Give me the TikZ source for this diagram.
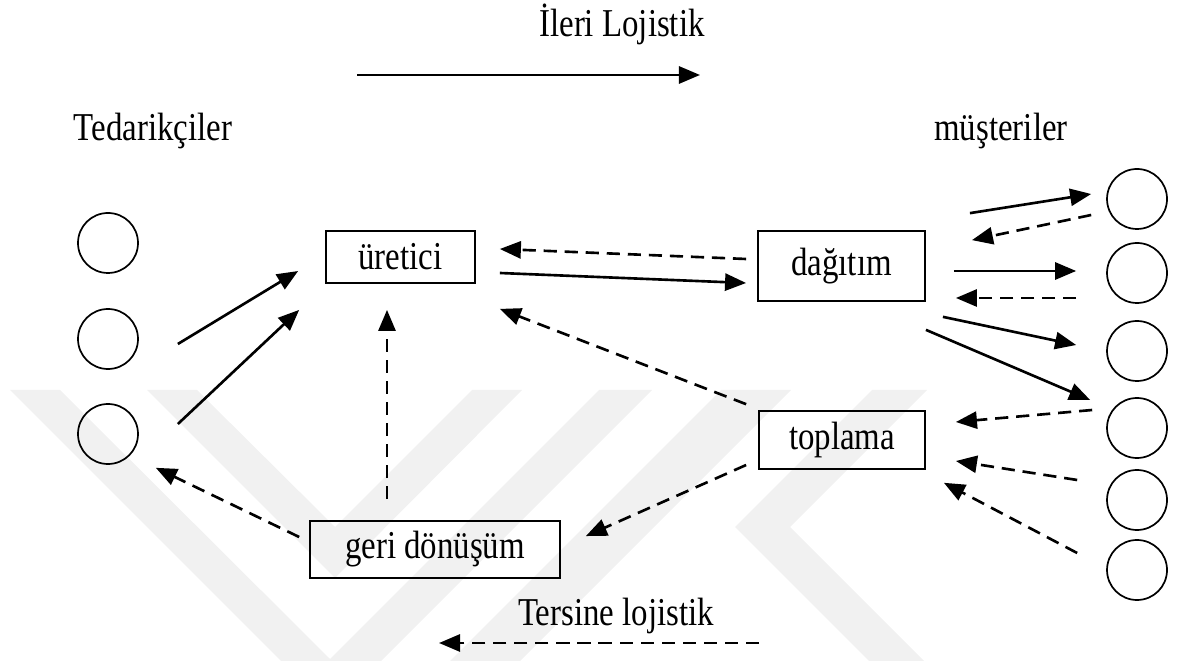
\documentclass[tikz,border=0pt]{standalone}
\usepackage{fontspec}
\usepackage{graphicx}
\setmainfont{Liberation Serif}
\usetikzlibrary{arrows.meta, calc}
\definecolor{wmgray}{RGB}{241,241,241}
\newcommand{\tallbox}[1]{\scalebox{1}[1.2]{#1}}

\tikzset{
  box/.style={draw, line width=0.65pt, inner sep=0pt, font=\fontsize{12.5}{14}\selectfont},
  circ/.style={draw, circle, line width=0.65pt, minimum size=22.8pt, inner sep=0pt},
  fwd/.style={line width=1pt, -{Triangle[length=8pt,width=6.5pt]}},
  bwd/.style={fwd, dash pattern=on 5pt off 3pt},
  lbl/.style={inner sep=0pt, anchor=base, font=\fontsize{12.5}{14}\selectfont}
}

\begin{document}
\begin{tikzpicture}[x=0.38pt, y=-0.38pt]
  \useasboundingbox (0,0) rectangle (1177,661);
  \fill[wmgray] (10,390) -- (331,711) -- (652,390) -- (599,390) -- (330,659) -- (60,390) -- cycle;
  \fill[wmgray] (147,390) -- (335,578) -- (522,390) -- (472,390) -- (335,527) -- (197,390) -- cycle;
  \fill[wmgray] (721,390) -- (791,390) -- (520,661) -- (450,661) -- cycle;
  \fill[wmgray] (872,390) -- (927,390) -- (790,527) -- (924,661) -- (869,661) -- (735,527) -- cycle;

  \node[lbl] (ileri) at (622,37) {\tallbox{İleri Lojistik}};
  \node[lbl] (tedarik) at (153,141) {\tallbox{Tedarikçiler}};
  \node[lbl] (musteri) at (1001,141) {\tallbox{müşteriler}};
  \node[lbl] (tersine) at (616,625) {\tallbox{Tersine lojistik}};

  \coordinate (ileriA) at (357,75);
  \coordinate (ileriB) at (700,75);
  \coordinate (tersA) at (759,643);
  \coordinate (tersB) at (439,643);
  \draw[fwd] (ileriA) -- (ileriB);
  \draw[bwd] (tersA) -- (tersB);

  \foreach \i/\y in {1/243, 2/339, 3/434}
    \node[circ] (s\i) at (108,\y) {};
  \foreach \i/\y in {1/199, 2/273, 3/351, 4/428, 5/500, 6/570}
    \node[circ] (c\i) at (1137,\y) {};

  \node[box, minimum width=56.6pt, minimum height=19.8pt] (uretici) at (400.5,257) {\tallbox{üretici}};
  \node[box, minimum width=63.5pt, minimum height=26.6pt] (dagitim) at (841.5,266) {\tallbox{dağıtım}};
  \node[box, minimum width=63.1pt, minimum height=22pt] (toplama) at (842,440) {\tallbox{toplama}};
  \node[box, minimum width=95pt, minimum height=21.7pt] (geri) at (435,549.5) {\tallbox{geri dönüşüm}};

  \draw[fwd] ([shift={(39,5)}]s2.east) -- ([shift={(-27,14)}]uretici.west);
  \draw[fwd] ([shift={(39,-10)}]s3.east) -- ([shift={(-26,26)}]uretici.south west);
  \draw[fwd] ([shift={(24,16)}]uretici.east) -- ([shift={(-11,17)}]dagitim.west);
  \draw[bwd] ([shift={(-11,-7)}]dagitim.west) -- ([shift={(24,-8)}]uretici.east);
  \draw[bwd] ([shift={(-12,-6)}]toplama.north west) -- ([shift={(24,25)}]uretici.south east);
  \draw[bwd] ([shift={(-48,-21)}]geri.north) -- ([shift={(-13.5,26)}]uretici.south);
  \draw[bwd] ([shift={(-10,-12.5)}]geri.west) -- ([shift={(26,12)}]s3.south east);
  \draw[bwd] ([shift={(-12,25)}]toplama.west) -- ([shift={(25,16)}]geri.north east);

  \draw[fwd] ([shift={(44,-17)}]dagitim.north east) -- ([shift={(-15,-5)}]c1.west);
  \draw[bwd] ([shift={(-15,16)}]c1.west) -- ([shift={(46,10)}]dagitim.north east);
  \draw[fwd] ([shift={(28,5)}]dagitim.east) -- ([shift={(-30,-2)}]c2.west);
  \draw[bwd] ([shift={(-30,25)}]c2.west) -- ([shift={(30,32)}]dagitim.east);
  \draw[fwd] ([shift={(17,15)}]dagitim.south east) -- ([shift={(-30,-6)}]c3.west);
  \draw[fwd] ([shift={(0,28)}]dagitim.south east) -- ([shift={(-16,-28)}]c4.west);
  \draw[bwd] ([shift={(-14,-18)}]c4.west) -- ([shift={(30,-18)}]toplama.east);
  \draw[bwd] ([shift={(-29,-20)}]c5.west) -- ([shift={(30,21)}]toplama.east);
  \draw[bwd] ([shift={(-29,-17)}]c6.west) -- ([shift={(18,13)}]toplama.south east);
\end{tikzpicture}
\end{document}
